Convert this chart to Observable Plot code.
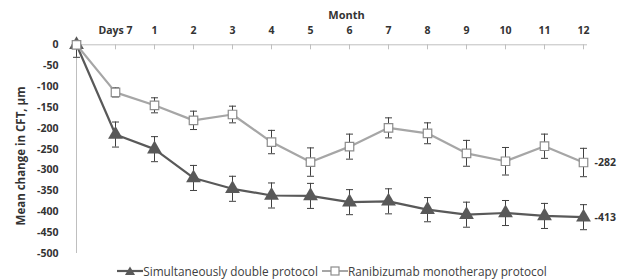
<!DOCTYPE html>
<html>
<head>
<meta charset="utf-8">
<script src="https://cdn.jsdelivr.net/npm/d3@7"></script>
<script src="https://cdn.jsdelivr.net/npm/@observablehq/plot@0.6"></script>
<style>
  body { margin: 0; background: #fff; font-family: "Open Sans", sans-serif; }
  #legend { display: flex; justify-content: center; align-items: center; height: 17px; font-size: 11.8px; color: #404040; padding-left: 32px; }
  #legend .item { display: flex; align-items: center; margin: 0 2px; }
  #legend svg { margin-right: 0px; }
</style>
</head>
<body>
<div id="chart"></div>
<div id="legend"></div>
<script>
const periods = ["0", "Days 7", "1", "2", "3", "4", "5", "6", "7", "8", "9", "10", "11", "12"];
const simultaneous = [0, -215, -250, -319, -345, -361, -362, -377, -375, -395, -407, -403, -410, -413];
const simultaneousErr = [30, 30, 30, 30, 30, 30, 30, 30, 30, 29, 30, 30, 30, 30];
const ranibizumab = [0, -114, -145, -181, -167, -233, -281, -244, -199, -212, -260, -279, -243, -282];
const ranibizumabErr = [0, 11, 18, 22, 20, 28, 34, 30, 24, 25, 31, 33, 29, 34];
const yTicks = [0, -50, -100, -150, -200, -250, -300, -350, -400, -450, -500];
const seriesNames = ["Simultaneously double protocol", "Ranibizumab monotherapy protocol"];

const DARK = "#595959", LIGHT = "#a6a6a6", SQ = "#8c8c8c", ERR = "#404040";

const sim = periods.map((p, i) => ({p, v: simultaneous[i], e: simultaneousErr[i]}));
const ran = periods.map((p, i) => ({p, v: ranibizumab[i], e: ranibizumabErr[i]}));
const last = periods.length - 1;

const cap = {draw(ctx) { ctx.moveTo(-3.5, 0); ctx.lineTo(3.5, 0); }};

function errorMarks(data) {
  const d = data.filter(x => x.e > 0);
  const up = d.filter(x => x.v + x.e <= 0);
  return [
    Plot.ruleX(d, {x: "p", y1: r => r.v - r.e, y2: r => Math.min(r.v + r.e, 0), stroke: ERR, strokeWidth: 1}),
    Plot.dot(d, {x: "p", y: r => r.v - r.e, symbol: cap, stroke: ERR, strokeWidth: 1, fill: "none"}),
    Plot.dot(up, {x: "p", y: r => r.v + r.e, symbol: cap, stroke: ERR, strokeWidth: 1, fill: "none"})
  ];
}

const chart = Plot.plot({
  width: 632,
  height: 262,
  marginTop: 44,
  marginBottom: 9,
  marginLeft: 71,
  marginRight: 45,
  style: {fontFamily: "Open Sans, sans-serif", fontSize: "10px", color: "#333"},
  x: {type: "point", domain: periods, padding: 0, range: [71, 587]},
  y: {domain: [-500, 0], range: [253, 44.3]},
  marks: [
    Plot.ruleY([0], {stroke: "#bfbfbf"}),
    Plot.ruleX([periods[0]], {x: d => d, y1: -500, y2: 0, stroke: "#bfbfbf"}),
    Plot.ruleX(periods, {x: d => d, y1: 0, y2: -12, stroke: "#bfbfbf"}),
    Plot.axisX({anchor: "top", tickSize: 0, tickPadding: 11, label: null, fontWeight: "bold", fontSize: 10.5,
      tickFormat: d => d === "0" ? "" : d}),
    Plot.axisY({ticks: yTicks, tickSize: 0, tickPadding: 13, label: null, fontWeight: "bold", fontSize: 10.5,
      tickFormat: d => String(d)}),
    Plot.text(["Month"], {frameAnchor: "top", dx: 17, dy: -33, fontWeight: "bold", fontSize: 11}),
    Plot.text(["Mean change in CFT, μm"], {frameAnchor: "left", textAnchor: "middle", rotate: -90, dx: -50, dy: 7, fontWeight: "bold", fontSize: 11.5}),
    ...errorMarks(sim),
    Plot.line(sim, {x: "p", y: "v", stroke: DARK, strokeWidth: 2.2}),
    Plot.dot(sim, {x: "p", y: "v", symbol: "triangle", r: 5.5, fill: DARK, stroke: "none"}),
    ...errorMarks(ran),
    Plot.line(ran, {x: "p", y: "v", stroke: LIGHT, strokeWidth: 2.2}),
    Plot.dot(ran, {x: "p", y: "v", symbol: "square", r: 4.8, fill: "white", stroke: SQ, strokeWidth: 1.2}),
    Plot.text([sim[last]], {x: "p", y: "v", text: d => String(d.v), dx: 11, textAnchor: "start", fontWeight: "bold", fontSize: 10.5}),
    Plot.text([ran[last]], {x: "p", y: "v", text: d => String(d.v), dx: 11, textAnchor: "start", fontWeight: "bold", fontSize: 10.5})
  ]
});
document.getElementById("chart").appendChild(chart);

const legend = document.getElementById("legend");
legend.innerHTML = `
  <span class="item"><svg width="26" height="12"><line x1="0" y1="6" x2="26" y2="6" stroke="${DARK}" stroke-width="2.2"/><path d="M13,1.5 L18,10 L8,10 Z" fill="${DARK}"/></svg>${seriesNames[0]}</span>
  <span class="item"><svg width="26" height="12"><line x1="0" y1="6" x2="26" y2="6" stroke="${LIGHT}" stroke-width="2"/><rect x="9" y="2" width="8" height="8" fill="white" stroke="${SQ}" stroke-width="1.2"/></svg>${seriesNames[1]}</span>`;
</script>
</body>
</html>
